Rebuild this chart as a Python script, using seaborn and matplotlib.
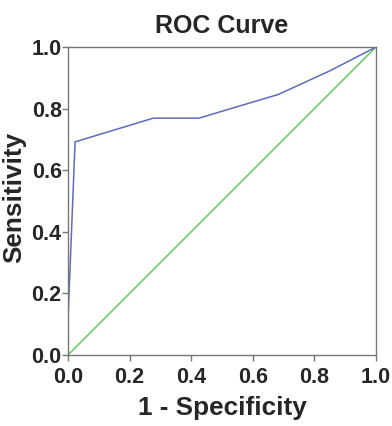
import matplotlib
matplotlib.use("Agg")
import matplotlib.pyplot as plt
import seaborn as sns
import pandas as pd

fpr = [0.0, 0.0, 0.023, 0.277, 0.425, 0.683, 0.851, 1.0]
tpr = [0.0, 0.231, 0.692, 0.769, 0.769, 0.846, 0.923, 1.0]
ref = [0.0, 1.0]
ticks = [0.0, 0.2, 0.4, 0.6, 0.8, 1.0]
tick_labels = ["0.0", "0.2", "0.4", "0.6", "0.8", "1.0"]

sns.set_style("white")
plt.rcParams['font.family'] = ['Liberation Sans', 'DejaVu Sans']

fig = plt.figure(figsize=(3.92, 4.26), dpi=100)
ax = fig.add_axes([68/392, 71/426, 308/392, 308/426])

curve = pd.DataFrame({"fpr": fpr, "tpr": tpr})
diag = pd.DataFrame({"x": ref, "y": ref})
sns.lineplot(data=diag, x="x", y="y", ax=ax, color="#55c455", lw=1.0, sort=False)
sns.lineplot(data=curve, x="fpr", y="tpr", ax=ax, color="#5b6cbf", lw=1.1, sort=False)

ax.set_xlim(0, 1)
ax.set_ylim(0, 1)
ax.set_xticks(ticks)
ax.set_yticks(ticks)
ax.set_xticklabels(tick_labels, fontsize=15.5, fontweight="bold")
ax.set_yticklabels(tick_labels, fontsize=15.5, fontweight="bold")
ax.tick_params(axis="both", direction="out", length=4, width=1, color="#777777", bottom=True, left=True)
ax.tick_params(axis="x", pad=4.5)
ax.tick_params(axis="y", pad=0.5)
for s in ax.spines.values():
    s.set_color("#777777")
    s.set_linewidth(1.0)

ax.set_xlabel("1 - Specificity", fontsize=18.8, fontweight="bold", labelpad=6)
ax.set_ylabel("Sensitivity", fontsize=18.8, fontweight="bold")
ax.yaxis.set_label_coords(-0.135, 0.51)
ax.set_title("ROC Curve", fontsize=18, fontweight="bold", pad=10)

fig.savefig("out.png", dpi=100)
